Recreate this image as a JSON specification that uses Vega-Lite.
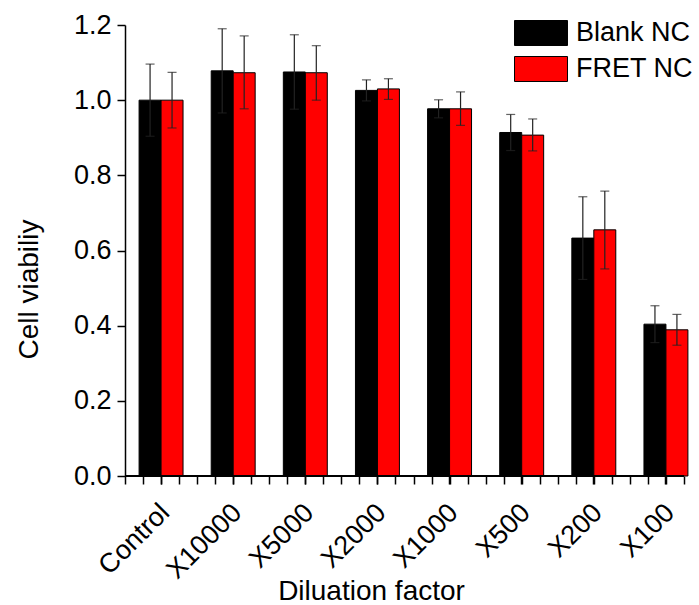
{
  "$schema": "https://vega.github.io/schema/vega-lite/v6.json",
  "width": 559,
  "height": 451,
  "autosize": "none",
  "padding": {"left": 125, "top": 25, "right": 15, "bottom": 129},
  "background": "white",
  "config": {
    "view": {"stroke": null},
    "font": "Liberation Sans",
    "axis": {"labelFont": "Liberation Sans", "titleFont": "Liberation Sans", "labelColor": "black", "titleColor": "black", "domainColor": "black", "tickColor": "black", "grid": false, "titleFontWeight": "normal"},
    "legend": {"labelFont": "Liberation Sans", "labelColor": "black"}
  },
  "data": {
    "values": [
      {"group": "Control", "series": "Blank NC", "value": 1.0, "lo": 0.904, "hi": 1.096},
      {"group": "Control", "series": "FRET NC", "value": 1.0, "lo": 0.926, "hi": 1.074},
      {"group": "X10000", "series": "Blank NC", "value": 1.078, "lo": 0.966, "hi": 1.19},
      {"group": "X10000", "series": "FRET NC", "value": 1.073, "lo": 0.977, "hi": 1.171},
      {"group": "X5000", "series": "Blank NC", "value": 1.075, "lo": 0.976, "hi": 1.174},
      {"group": "X5000", "series": "FRET NC", "value": 1.073, "lo": 1.0, "hi": 1.145},
      {"group": "X2000", "series": "Blank NC", "value": 1.026, "lo": 0.998, "hi": 1.054},
      {"group": "X2000", "series": "FRET NC", "value": 1.03, "lo": 1.002, "hi": 1.057},
      {"group": "X1000", "series": "Blank NC", "value": 0.977, "lo": 0.953, "hi": 1.001},
      {"group": "X1000", "series": "FRET NC", "value": 0.977, "lo": 0.933, "hi": 1.022},
      {"group": "X500", "series": "Blank NC", "value": 0.914, "lo": 0.866, "hi": 0.962},
      {"group": "X500", "series": "FRET NC", "value": 0.907, "lo": 0.865, "hi": 0.95},
      {"group": "X200", "series": "Blank NC", "value": 0.633, "lo": 0.523, "hi": 0.743},
      {"group": "X200", "series": "FRET NC", "value": 0.655, "lo": 0.551, "hi": 0.758},
      {"group": "X100", "series": "Blank NC", "value": 0.404, "lo": 0.355, "hi": 0.453},
      {"group": "X100", "series": "FRET NC", "value": 0.389, "lo": 0.348, "hi": 0.43}
    ]
  },
  "layer": [
    {
      "encoding": {
        "x": {
          "field": "group", "type": "nominal", "sort": null,
          "scale": {"type": "band", "range": [0, 577], "paddingInner": 0.3906, "paddingOuter": 0.1953},
          "axis": {
            "title": "Diluation factor", "titleFontSize": 28, "titleX": 246, "titleY": 123,
            "titleAlign": "center", "titleBaseline": "alphabetic", "titleAnchor": null,
            "labelAngle": -45, "labelAlign": "right", "labelBaseline": "top",
            "labelFontSize": 27, "labelPadding": 15, "labelOffset": -5, "tickSize": 8, "tickWidth": 1.5,
            "domain": false
          }
        },
        "xOffset": {"field": "series", "type": "nominal", "scale": {"paddingInner": 0, "paddingOuter": 0}},
        "y": {
          "field": "value", "type": "quantitative",
          "scale": {"domain": [0, 1.2], "nice": false, "zero": true},
          "axis": {
            "title": "Cell viabiliy", "titleFontSize": 28, "titleAngle": -90, "titleX": -88, "titleY": 264,
            "titleAlign": "center", "titleBaseline": "alphabetic",
            "values": [0, 0.1, 0.2, 0.3, 0.4, 0.5, 0.6, 0.7, 0.8, 0.9, 1.0, 1.1, 1.2],
            "format": ".1f",
            "labelExpr": "round(datum.value*10) % 2 == 0 ? datum.label : ''",
            "labelFontSize": 27, "labelPadding": 6,
            "tickSize": {"condition": {"test": "round(datum.value*10) % 2 == 1", "value": 4}, "value": 8},
            "tickWidth": 1.5, "domainWidth": 1.5
          }
        }
      },
      "layer": [
        {
          "mark": {"type": "bar", "stroke": "black", "strokeWidth": 1},
          "encoding": {
            "color": {
              "field": "series", "type": "nominal",
              "scale": {"domain": ["Blank NC", "FRET NC"], "range": ["#000000", "#ff0000"]},
              "legend": {
                "orient": "none", "legendX": 402, "legendY": -6, "title": null,
                "symbolType": "M-2,-0.9434H2V0.9434H-2Z", "symbolSize": 702,
                "symbolStrokeColor": "black", "symbolStrokeWidth": 1,
                "labelFontSize": 27, "labelOffset": 21, "rowPadding": 6
              }
            }
          }
        },
        {
          "mark": {"type": "rule", "color": "#222", "strokeWidth": 1.2},
          "encoding": {"y": {"field": "lo", "type": "quantitative"}, "y2": {"field": "hi"}}
        },
        {
          "mark": {"type": "tick", "orient": "horizontal", "color": "#222", "size": 9, "thickness": 1.2},
          "encoding": {"y": {"field": "hi", "type": "quantitative"}}
        },
        {
          "mark": {"type": "tick", "orient": "horizontal", "color": "#222", "size": 9, "thickness": 1.2},
          "encoding": {"y": {"field": "lo", "type": "quantitative"}}
        }
      ]
    },
    {
      "mark": {"type": "rule", "color": "black", "strokeWidth": 1.5},
      "encoding": {
        "x": {
          "datum": 0.5, "type": "quantitative",
          "scale": {"domain": [0.5, 8.25], "nice": false, "zero": false},
          "axis": {
            "orient": "bottom", "title": null, "labels": false, "domain": false,
            "values": [0.5, 0.75, 1, 1.25, 1.5, 1.75, 2, 2.25, 2.5, 2.75, 3, 3.25, 3.5, 3.75, 4, 4.25, 4.5, 4.75, 5, 5.25, 5.5, 5.75, 6, 6.25, 6.5, 6.75, 7, 7.25, 7.5, 7.75, 8, 8.25],
            "tickSize": 8, "tickWidth": 1.5
          }
        },
        "x2": {"datum": 8.25},
        "y": {"datum": 0, "type": "quantitative"}
      }
    }
  ],
  "resolve": {"scale": {"x": "independent"}, "axis": {"x": "independent"}}
}
